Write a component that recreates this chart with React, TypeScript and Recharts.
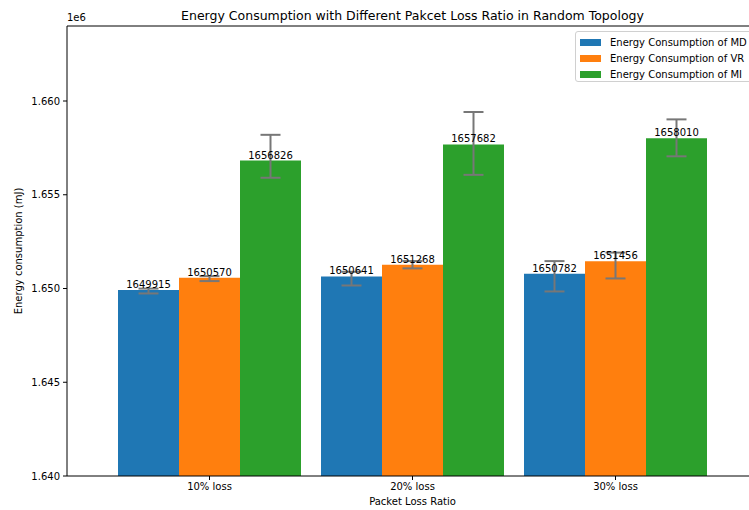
import React from 'react';
import {
  BarChart,
  Bar,
  XAxis,
  YAxis,
  ErrorBar,
  LabelList,
  ReferenceLine
} from 'recharts';

const categories = ['10% loss', '20% loss', '30% loss'];
const mdValues = [1649915, 1650641, 1650782];
const vrValues = [1650570, 1651268, 1651456];
const miValues = [1656826, 1657682, 1658010];
// [below, above] error amounts
const mdErrors = [[180, 80], [480, 250], [940, 680]];
const vrErrors = [[175, 90], [195, 195], [920, 460]];
const miErrors = [[920, 1370], [1620, 1730], [960, 1010]];
const yTicks = [1640000, 1645000, 1650000, 1655000, 1660000];

const seriesNames = ['Energy Consumption of MD', 'Energy Consumption of VR', 'Energy Consumption of MI'];
const seriesColors = ['#1f77b4', '#ff7f0e', '#2ca02c'];

const data = categories.map((name, i) => ({
  name,
  md: mdValues[i],
  vr: vrValues[i],
  mi: miValues[i],
  mdErr: mdErrors[i],
  vrErr: vrErrors[i],
  miErr: miErrors[i]
}));

const FONT = '"DejaVu Sans", sans-serif';
const tickStyle = { fontSize: 10, fill: '#000', fontFamily: FONT };

const App: React.FC = () => {
  return (
    <div style={{ position: 'absolute', left: 0, top: 0, width: 749, height: 510, overflow: 'hidden', background: '#fff', fontFamily: FONT }}>
      <BarChart
        width={758}
        height={510}
        data={data}
        margin={{ top: 26, right: 0, left: 18, bottom: 0 }}
        barCategoryGap={10}
        barGap={0}
      >
        <XAxis
          dataKey="name"
          tick={tickStyle}
          tickSize={4}
          tickMargin={3}
          stroke="#000"
          height={34}
          padding={{ left: 41, right: 41 }}
        />
        <YAxis
          domain={[1640000, 1664000]}
          allowDataOverflow
          ticks={yTicks}
          tickFormatter={(v: number) => (v / 1e6).toFixed(3)}
          tick={tickStyle}
          tickSize={4}
          tickMargin={3}
          stroke="#000"
          width={49}
        />
        <ReferenceLine y={1664000} stroke="#000" />
        {(['md', 'vr', 'mi'] as const).map((key, idx) => (
          <Bar key={key} dataKey={key} fill={seriesColors[idx]} isAnimationActive={false}>
            <LabelList
              dataKey={key}
              position="top"
              offset={2}
              style={{ fontSize: 10, fill: '#000', fontFamily: FONT }}
            />
            <ErrorBar
              dataKey={`${key}Err`}
              direction="y"
              width={10}
              strokeWidth={2}
              stroke="#777"
              isAnimationActive={false}
            />
          </Bar>
        ))}
      </BarChart>

      <div style={{ position: 'absolute', left: 67, width: 691, top: 8, textAlign: 'center', fontSize: 12.5, lineHeight: '15px' }}>
        Energy Consumption with Different Pakcet Loss Ratio in Random Topology
      </div>
      <div style={{ position: 'absolute', left: 67, top: 12, fontSize: 10, lineHeight: '12px' }}>1e6</div>
      <div style={{ position: 'absolute', left: 67, width: 691, top: 496, textAlign: 'center', fontSize: 10, lineHeight: '12px' }}>
        Packet Loss Ratio
      </div>
      <div
        style={{
          position: 'absolute',
          left: 19,
          top: 251,
          transform: 'translate(-50%, -50%) rotate(-90deg)',
          whiteSpace: 'nowrap',
          fontSize: 10,
          lineHeight: '12px'
        }}
      >
        Energy consumption (mJ)
      </div>

      <div
        style={{
          position: 'absolute',
          left: 575,
          top: 31,
          width: 180,
          height: 51,
          boxSizing: 'border-box',
          border: '1px solid #d0d0d0',
          borderRadius: 3,
          background: 'rgba(255,255,255,0.8)',
          padding: '3px 0 0 4px'
        }}
      >
        {seriesNames.map((name, i) => (
          <div key={name} style={{ display: 'flex', alignItems: 'center', height: 15, marginBottom: i < 2 ? 1 : 0 }}>
            <span style={{ display: 'inline-block', width: 21, height: 7, background: seriesColors[i], marginRight: 9 }} />
            <span style={{ fontSize: 10, whiteSpace: 'nowrap' }}>{name}</span>
          </div>
        ))}
      </div>
    </div>
  );
};

export default App;
